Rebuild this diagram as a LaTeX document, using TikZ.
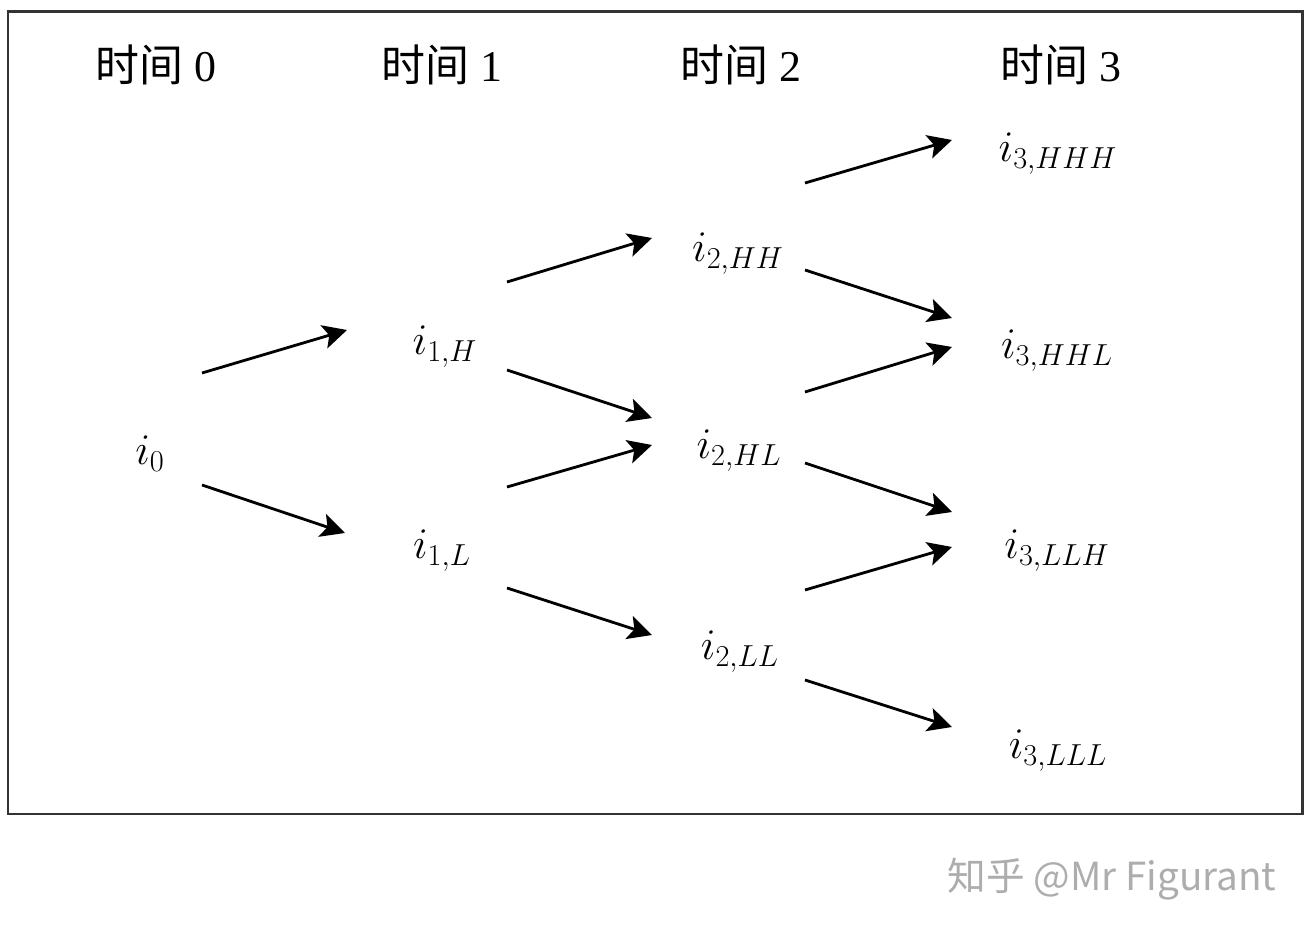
\documentclass[tikz,border=0pt]{standalone}
\usepackage{fontspec}
\setmainfont{Liberation Serif}
\newfontfamily\cjk{Noto Sans CJK SC}
\usetikzlibrary{arrows.meta}

\begin{document}
\begin{tikzpicture}[
  x=0.02cm, y=-0.02cm,
  every node/.style={inner sep=0pt},
  timelab/.style={anchor=base, font=\fontsize{25}{30}\selectfont},
  rate/.style={anchor=base, font=\fontsize{23.5}{28}\selectfont},
  arrow/.style={-{Stealth[length=4.8mm, width=4.8mm, inset=1.1mm]}, line width=1.6pt},
  frame/.style={draw=black!80, line width=1.7pt},
]
\useasboundingbox (0,0) rectangle (1313,935);

% Frame
\draw[frame] (8,12) rectangle (1302,814);

% Time headings
\node[timelab] (t0) at (156, 82) {{\cjk 时间} 0};
\node[timelab] (t1) at (442, 82) {{\cjk 时间} 1};
\node[timelab] (t2) at (741, 82) {{\cjk 时间} 2};
\node[timelab] (t3) at (1061, 82) {{\cjk 时间} 3};

% Rates
\node[rate] (i0) at (150, 465) {$i_0$};
\node[rate] (i1H) at (445, 355) {$i_{1,H}$};
\node[rate] (i1L) at (442, 559) {$i_{1,L}$};
\node[rate] (i2HH) at (738, 262) {$i_{2,HH}$};
\node[rate] (i2HL) at (739, 459) {$i_{2,HL}$};
\node[rate] (i2LL) at (740, 660) {$i_{2,LL}$};
\node[rate] (i3HHH) at (1058, 162) {$i_{3,HHH}$};
\node[rate] (i3HHL) at (1057, 359) {$i_{3,HHL}$};
\node[rate] (i3LLH) at (1057, 559) {$i_{3,LLH}$};
\node[rate] (i3LLL) at (1058, 759) {$i_{3,LLL}$};

% Branches
\foreach \a/\b/\s/\e in {
  i0/i1H/{52,-92}/{-98,-25}, i0/i1L/{52,20}/{-97,-26},
  i1H/i2HH/{62,-73}/{-86,-24}, i1H/i2HL/{62,15}/{-87,-41},
  i1L/i2HL/{65,-72}/{-87,-14}, i1L/i2LL/{65,29}/{-88,-25},
  i2HH/i3HHH/{67,-79}/{-106,-22}, i2HH/i3HHL/{67,8}/{-105,-41},
  i2HL/i3HHL/{66,-67}/{-105,-12}, i2HL/i3LLH/{66,4}/{-105,-47},
  i2LL/i3LLH/{65,-70}/{-105,-12}, i2LL/i3LLL/{65,20}/{-106,-32}} {
  \draw[arrow] ([shift={(\s)}]\a.base) -- ([shift={(\e)}]\b.base);
}

% Watermark
\node[anchor=base, font=\cjk\fontsize{22}{26}\selectfont, text=black!32] (wm) at (1112, 890) {知乎 @Mr Figurant};

\end{tikzpicture}
\end{document}
